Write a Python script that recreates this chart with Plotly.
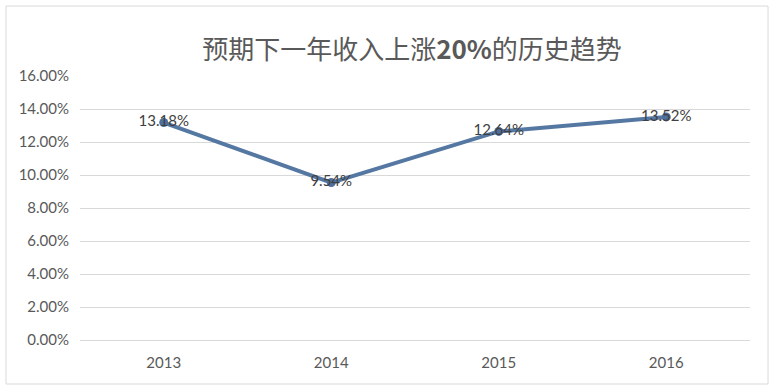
import plotly.graph_objects as go

years = ["2013", "2014", "2015", "2016"]
values = [0.1318, 0.0954, 0.1264, 0.1352]
labels = ["13.18%", "9.54%", "12.64%", "13.52%"]
y_ticks = [0, 0.02, 0.04, 0.06, 0.08, 0.10, 0.12, 0.14, 0.16]
y_tick_text = ["0.00%", "2.00%", "4.00%", "6.00%", "8.00%", "10.00%", "12.00%", "14.00%", "16.00%"]
title = "预期下一年收入上涨<b>20%</b>的历史趋势"

fig = go.Figure()
fig.add_trace(go.Scatter(
    x=years, y=values, mode="lines+markers+text",
    text=labels, textposition="middle center",
    textfont=dict(family="Lato, Noto Sans", size=15, color="#404040"),
    line=dict(color="#5578a3", width=4),
    marker=dict(color="#4f6f9c", size=9),
    cliponaxis=False, showlegend=False, hoverinfo="skip",
))

fig.update_layout(
    width=773, height=389,
    paper_bgcolor="white", plot_bgcolor="white",
    margin=dict(l=80, r=23, t=76, b=49),
    title=dict(text=title, x=0.533, xanchor="center", y=0.871, yanchor="middle",
               font=dict(family="Noto Sans CJK SC", size=26, color="#595959")),
    xaxis=dict(type="category", range=[-0.5, 3.5], showgrid=False, zeroline=False,
               showline=True, linecolor="#d9d9d9", linewidth=1,
               ticks="", tickfont=dict(family="Lato, Noto Sans", size=15, color="#595959"),
               ticklabelstandoff=9),
    yaxis=dict(range=[0, 0.16], tickvals=y_ticks, ticktext=y_tick_text,
               showgrid=True, gridcolor="#d9d9d9", gridwidth=1, zeroline=False,
               showline=False, ticks="", ticklabelstandoff=10,
               tickfont=dict(family="Lato, Noto Sans", size=15, color="#595959")),
    shapes=[dict(type="rect", xref="paper", yref="paper",
                 x0=-0.1104, x1=1.0269, y0=-0.1667, y1=1.265,
                 line=dict(color="#d9d9d9", width=1))],
)

fig.write_html("out.html", config={"displayModeBar": False},
               post_script="document.body.style.margin='0';")
